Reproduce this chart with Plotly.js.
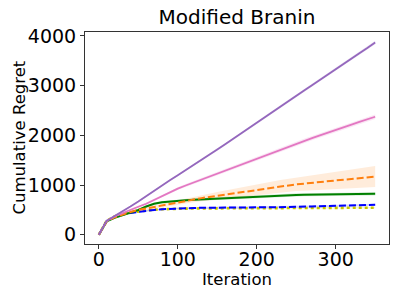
<!DOCTYPE html>
<html>
<head>
<meta charset="utf-8">
<script src="https://cdn.plot.ly/plotly-3.0.1.min.js"></script>
<style>html,body{margin:0;padding:0;background:#fff;}#chart{width:399px;height:299px;}</style>
</head>
<body>
<div id="chart"></div>
<script>
const iterations = [0,10,20,30,40,50,60,70,80,90,100,110,120,130,140,150,160,170,180,190,200,210,220,230,240,250,260,270,280,290,300,310,320,330,340,350];

const purpleMean = [0,280,380,470,570,670,780,890,1000,1100,1200,1300,1405,1510,1610,1715,1820,1930,2035,2145,2255,2365,2470,2580,2690,2795,2905,3010,3120,3225,3335,3440,3550,3655,3760,3870];
const purpleErr  = [0,10,12,14,15,16,17,18,19,20,20,21,22,22,23,24,24,25,25,26,26,27,27,28,28,29,29,30,30,31,31,32,32,33,33,34];

const pinkMean = [0,280,370,440,505,565,625,700,785,865,930,992,1052,1112,1170,1230,1290,1350,1410,1470,1530,1590,1655,1720,1780,1835,1890,1945,2000,2050,2105,2160,2215,2270,2320,2375];
const pinkErr  = [0,10,12,14,16,18,20,22,24,26,28,29,30,31,32,33,34,35,36,37,38,38,39,39,40,40,41,41,42,42,43,43,44,44,45,45];

const orangeMean = [0,270,350,410,460,500,530,570,600,630,655,685,712,738,762,785,808,830,855,880,905,930,955,980,998,1015,1030,1046,1062,1078,1094,1110,1125,1140,1156,1172];
const orangeErr  = [0,10,14,18,22,26,30,34,38,42,46,52,58,64,70,76,82,88,94,100,106,112,118,124,130,136,143,150,157,164,171,178,185,192,200,210];

const greenMean = [0,270,340,395,440,500,570,625,655,672,685,695,705,713,722,730,738,745,752,762,772,782,790,798,801,803,805,807,809,811,813,815,817,819,821,824];
const greenErr  = [0,10,14,16,18,20,22,24,24,25,25,26,26,27,27,28,28,28,29,29,29,30,30,30,30,31,31,31,31,32,32,32,32,33,33,33];

const blueMean = [0,280,360,410,440,465,485,500,515,525,530,535,540,543,546,548,550,551,552,553,553,554,554,555,559,563,567,571,575,580,584,588,592,596,600,605];
const blueErr  = [0,10,12,13,14,15,15,16,16,17,17,17,18,18,18,18,19,19,19,19,19,20,20,20,20,20,20,21,21,21,21,21,21,22,22,22];

const yellowMean = [0,285,370,420,450,470,490,505,515,522,527,529,530,531,532,533,534,535,536,537,538,538,539,539,540,540,541,541,542,542,543,543,544,544,545,545];
const yellowErr  = [0,6,7,8,8,9,9,9,10,10,10,10,10,10,10,10,10,11,11,11,11,11,11,11,11,11,11,11,11,11,11,11,11,11,11,11];

const seriesList = [
  {mean: yellowMean, err: yellowErr, color: '#c8c800', fill: 'rgba(191,191,0,0.2)', dash: 'dot', width: 2.6},
  {mean: blueMean, err: blueErr, color: '#0000ff', fill: 'rgba(0,0,255,0.18)', dash: '7px,3px', width: 2},
  {mean: greenMean, err: greenErr, color: '#008000', fill: 'rgba(0,128,0,0.15)', dash: 'solid', width: 2},
  {mean: orangeMean, err: orangeErr, color: '#ff7f0e', fill: 'rgba(255,127,14,0.15)', dash: '7px,3px', width: 2},
  {mean: pinkMean, err: pinkErr, color: '#e377c2', fill: 'rgba(227,119,194,0.18)', dash: 'solid', width: 1.8},
  {mean: purpleMean, err: purpleErr, color: '#9467bd', fill: 'rgba(148,103,189,0.18)', dash: 'solid', width: 1.8}
];

const traces = [];
seriesList.forEach(s => {
  traces.push({x: iterations, y: s.mean.map((m,i)=>m+s.err[i]), mode:'lines', line:{width:0, color:s.color}, hoverinfo:'skip', showlegend:false});
  traces.push({x: iterations, y: s.mean.map((m,i)=>m-s.err[i]), mode:'lines', line:{width:0, color:s.color}, fill:'tonexty', fillcolor:s.fill, hoverinfo:'skip', showlegend:false});
});
seriesList.forEach(s => {
  traces.push({x: iterations, y: s.mean, mode:'lines', line:{color:s.color, width:s.width, dash:s.dash}, showlegend:false});
});

const font = 'DejaVu Sans, sans-serif';
const plotH = 299 - 32 - 55;
const plotW = 399 - 85 - 10;
const layout = {
  width: 399, height: 299,
  margin: {l: 85, r: 10, t: 32, b: 55},
  paper_bgcolor: '#fff', plot_bgcolor: '#fff',
  showlegend: false,
  title: {text: 'Modified Branin', font: {family: font, size: 20, color: '#000'}, x: 0.5, xref: 'paper', y: 1 - 17/299, yref: 'container', yanchor: 'middle'},
  xaxis: {
    range: [-17.5, 367.5], tickvals: [0,100,200,300], ticktext: ['0','100','200','300'],
    showgrid: false, zeroline: false, showline: true, mirror: true, linecolor: '#333', linewidth: 1,
    ticks: 'outside', ticklen: 4, tickcolor: '#333', ticklabelstandoff: -6,
    tickfont: {family: font, size: 19, color: '#000'}
  },
  yaxis: {
    range: [-185, 4080], tickvals: [0,1000,2000,3000,4000], ticktext: ['0','1000','2000','3000','4000'],
    showgrid: false, zeroline: false, showline: true, mirror: true, linecolor: '#333', linewidth: 1,
    ticks: 'outside', ticklen: 4, tickcolor: '#333',
    tickfont: {family: font, size: 19, color: '#000'}
  },
  annotations: [
    {text: 'Iteration', xref: 'paper', yref: 'paper', x: 0.5, y: (244 - 279) / plotH, xanchor: 'center', yanchor: 'middle', showarrow: false, font: {family: font, size: 16.5, color: '#000'}},
    {text: 'Cumulative Regret', xref: 'paper', yref: 'paper', x: (18.5 - 85) / plotW, y: 0.5, xanchor: 'center', yanchor: 'middle', textangle: -90, showarrow: false, font: {family: font, size: 16.5, color: '#000'}}
  ]
};

Plotly.newPlot('chart', traces, layout, {staticPlot: true, displayModeBar: false});
</script>
</body>
</html>
